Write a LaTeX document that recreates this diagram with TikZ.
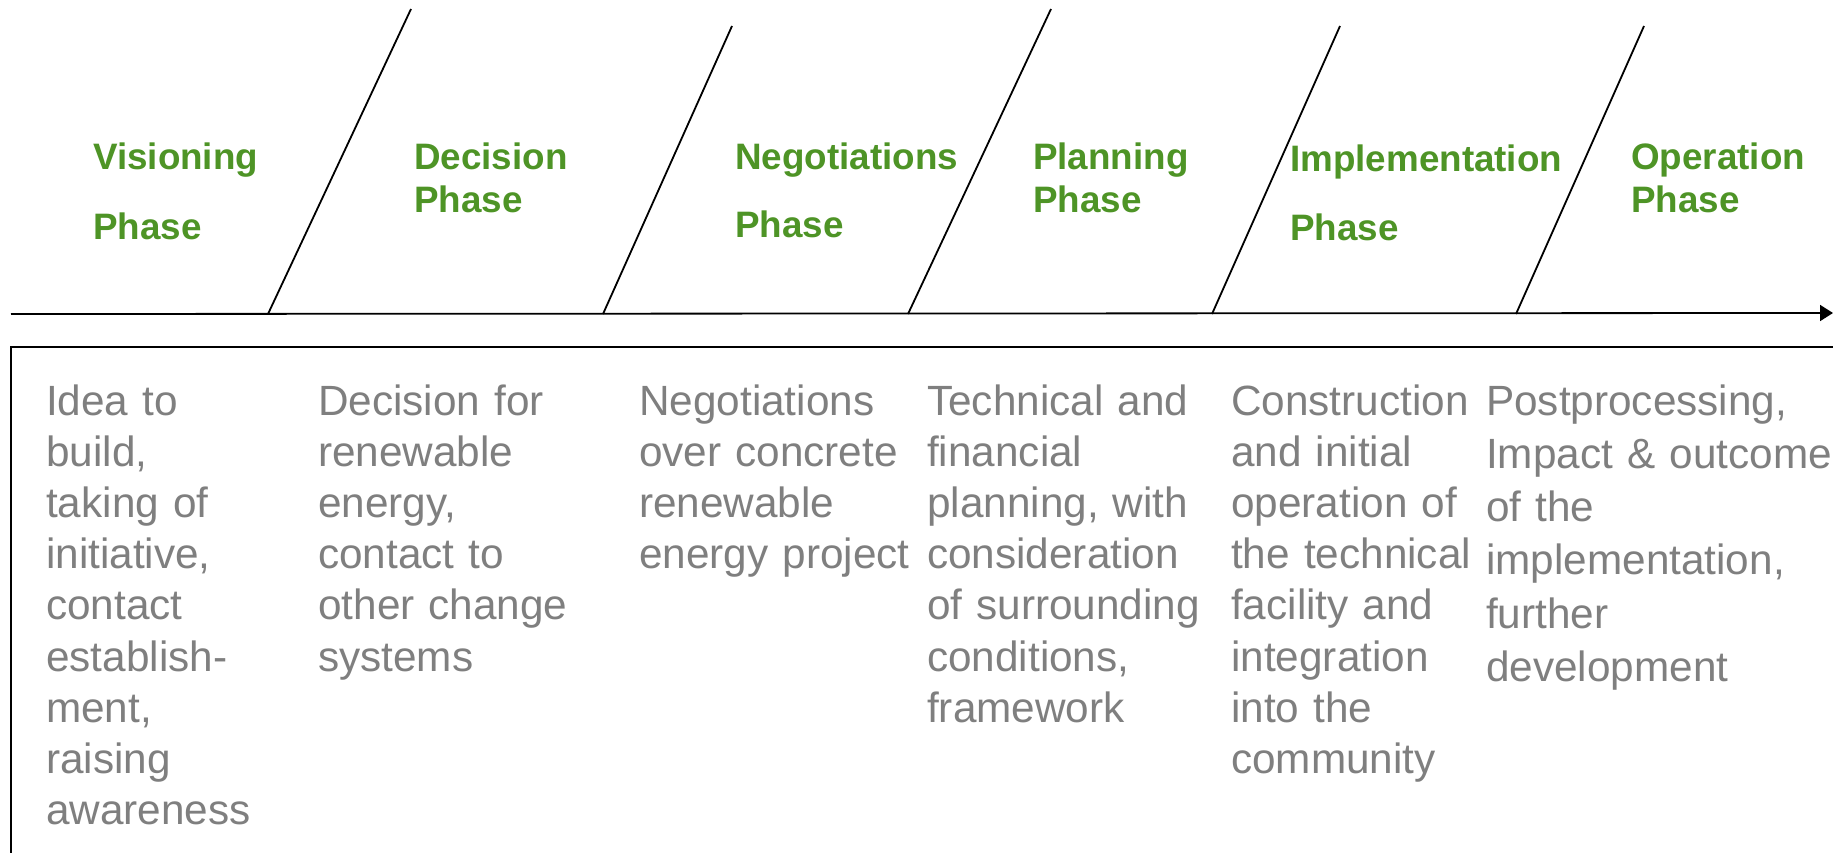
\documentclass[tikz,border=0pt]{standalone}
\usepackage{fontspec}
\setmainfont{Liberation Sans}
\usetikzlibrary{arrows.meta}
\definecolor{phasegreen}{RGB}{78,148,38}
\definecolor{descgray}{RGB}{127,127,127}
\tikzset{
  phase/.style={anchor=base west, inner sep=0pt, text=phasegreen,
    font=\fontsize{36.8}{43}\selectfont\bfseries, text width=400pt, align=left},
  desc/.style={anchor=base west, inner sep=0pt, text=descgray,
    font=\fontsize{42.3}{51.2}\selectfont, text width=500pt, align=left},
  rule/.style={line width=1.8pt, black},
}
\begin{document}
\begin{tikzpicture}[x=1pt,y=-1pt]
\clip (0,0) rectangle (1833,853);
\fill[white] (0,0) rectangle (1833,853);

% axis
\coordinate (axs) at (11,314);
\coordinate (axe) at (1833,313);
\draw[rule, -{Triangle[length=13pt,width=16pt]}] (axs) -- (axe);

% box (open to the right and bottom)
\coordinate (boxr) at (1850,347);
\coordinate (boxtl) at (11,347);
\coordinate (boxbl) at (11,870);
\draw[rule] (boxr) -- (boxtl) -- (boxbl);

% slanted separators
\coordinate (b1) at (268,314); \coordinate (t1) at (411,9);
\coordinate (b2) at (603,314); \coordinate (t2) at (732,26);
\coordinate (b3) at (908,314); \coordinate (t3) at (1051,9);
\coordinate (b4) at (1212,314); \coordinate (t4) at (1340,26);
\coordinate (b5) at (1516,314); \coordinate (t5) at (1644,26);
\foreach \i in {1,...,5}{\draw[rule] (b\i) -- (t\i);}

% phase titles
\node[phase] (p1) at (93,170) {Visioning\\[27pt]Phase};
\node[phase] (p2) at (414,170) {Decision\\Phase};
\node[phase] (p3) at (735,170) {Negotiations\\[25pt]Phase};
\node[phase] (p4) at (1033,170) {Planning\\Phase};
\node[phase] (p5) at (1290,172) {Implementation\\[26pt]Phase};
\node[phase] (p6) at (1631,170) {Operation\\Phase};

% descriptions
\node[desc] (d1) at (46,415) {Idea to\\build,\\taking of\\initiative,\\contact\\establish-\\ment,\\raising\\awareness};
\node[desc] (d2) at (318,415) {Decision for\\renewable\\energy,\\contact to\\other change\\systems};
\node[desc] (d3) at (639,415) {Negotiations\\over concrete\\renewable\\energy project};
\node[desc] (d4) at (927,415) {Technical and\\financial\\planning, with\\consideration\\of surrounding\\conditions,\\framework};
\node[desc] (d5) at (1231,415) {Construction\\and initial\\operation of\\the technical\\facility and\\integration\\into the\\community};
\node[desc, font=\fontsize{42.3}{53.3}\selectfont] (d6) at (1486,415) {Postprocessing,\\Impact \& outcome\\of the\\implementation,\\further\\development};
\end{tikzpicture}
\end{document}
